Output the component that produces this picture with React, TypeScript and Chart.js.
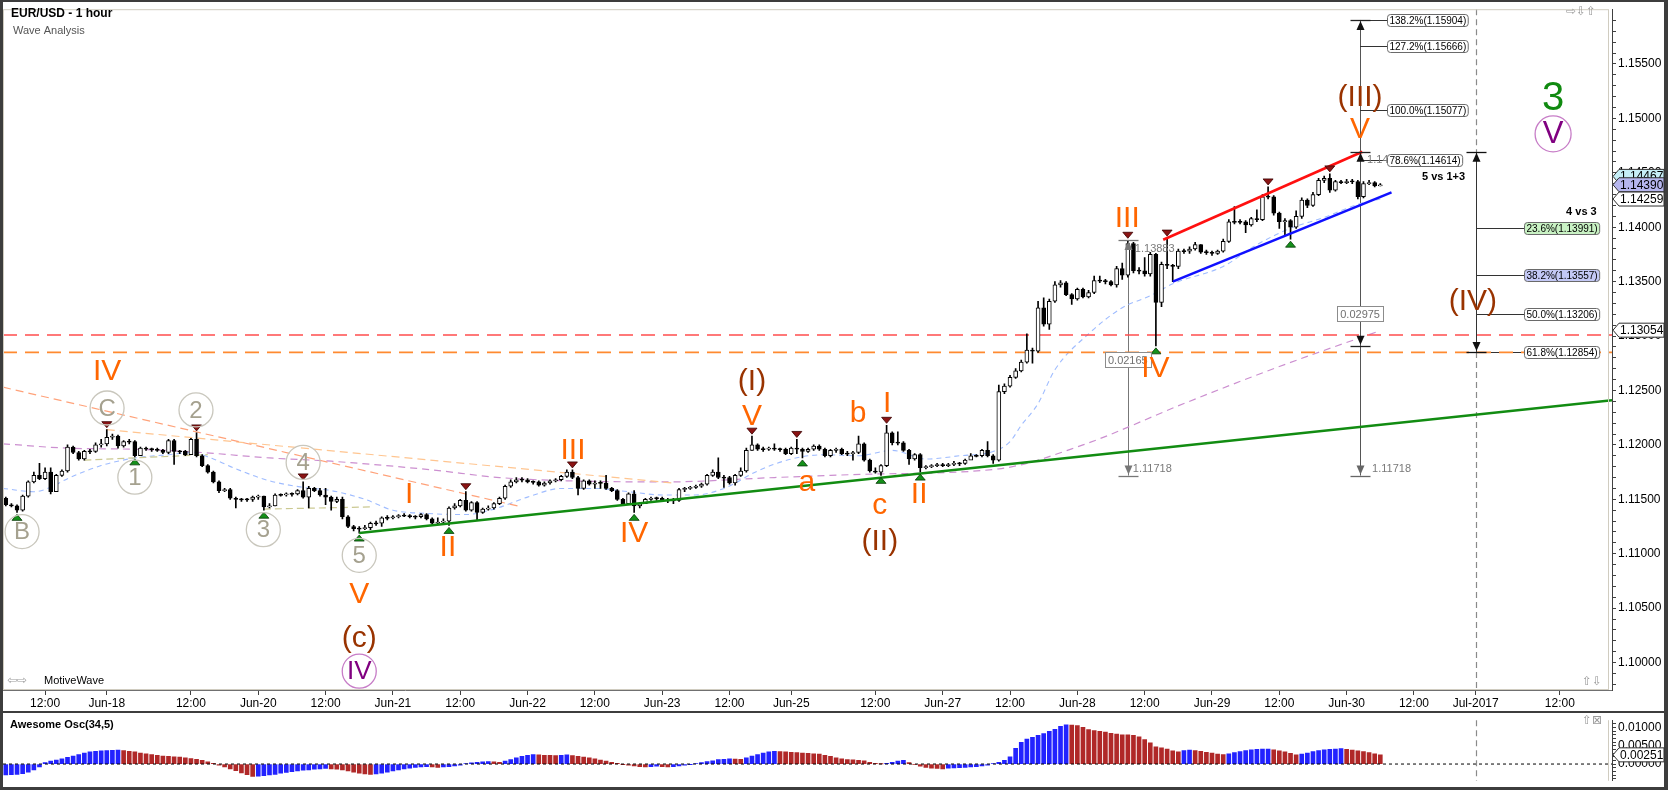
import React, { useEffect, useRef } from 'react';
import { Chart, registerables } from 'chart.js';

Chart.register(...registerables);

const FONT = '"Liberation Sans", Arial, Helvetica, sans-serif';
const SYM_FONT = '"DejaVu Sans", sans-serif';
const W = 1668;
const H_MAIN = 711;
const H_AO = 79;

// ---- axes ----
const X_MIN = -7.5;
const X_MAX = 279.3;
const Y_MIN = 1.09748;
const Y_MAX = 1.16003;
const AO_MIN = -0.00457;
const AO_MAX = 0.01196;

const TICK_POS = [0, 11, 26, 38, 50, 62, 74, 86, 98, 110, 122, 133, 148, 160, 172, 184, 196, 208, 220, 232, 244, 255, 270];
const TICK_LABELS = ['12:00', 'Jun-18', '12:00', 'Jun-20', '12:00', 'Jun-21', '12:00', 'Jun-22', '12:00', 'Jun-23', '12:00', 'Jun-25', '12:00', 'Jun-27', '12:00', 'Jun-28', '12:00', 'Jun-29', '12:00', 'Jun-30', '12:00', 'Jul-2017', '12:00'];

// ---- candles (hourly, index 0 = Jun-16 12:00, weekend removed) ----
const START_IDX = -7;
const FIRST_OPEN = 1.1151;
const CLOSE = [
  1.1145, 1.1144, 1.1140, 1.1153, 1.1166, 1.1172, 1.1169, 1.1175, 1.1157, 1.1172,
  1.1176, 1.1198, 1.1193, 1.1187, 1.1194, 1.1194, 1.1200, 1.1201, 1.1207, 1.1208,
  1.1199, 1.1203, 1.1203, 1.1190, 1.1197, 1.1196, 1.1196, 1.1195, 1.1193, 1.1204,
  1.1194, 1.1194, 1.1191, 1.1205, 1.1190, 1.1181, 1.1175, 1.1166, 1.1158, 1.1159,
  1.1151, 1.1150, 1.1150, 1.1150, 1.1152, 1.1153, 1.1143, 1.1144, 1.1154, 1.1154,
  1.1155, 1.1155, 1.1158, 1.1152, 1.1160, 1.1158, 1.1154, 1.1152, 1.1148, 1.1150,
  1.1134, 1.1125, 1.1123, 1.1123, 1.1124, 1.1128, 1.1128, 1.1133, 1.1133, 1.1134,
  1.1135, 1.1135, 1.1134, 1.1134, 1.1136, 1.1132, 1.1128, 1.1129, 1.1130, 1.1142,
  1.1144, 1.1149, 1.1140, 1.1147, 1.1138, 1.1141, 1.1142, 1.1146, 1.1151, 1.1162,
  1.1166, 1.1168, 1.1168, 1.1166, 1.1166, 1.1163, 1.1165, 1.1167, 1.1168, 1.1171,
  1.1175, 1.1170, 1.1160, 1.1167, 1.1164, 1.1165, 1.1165, 1.1160, 1.1158, 1.1150,
  1.1146, 1.1155, 1.1144, 1.1146, 1.1150, 1.1151, 1.1151, 1.1149, 1.1149, 1.1149,
  1.1159, 1.1160, 1.1161, 1.1162, 1.1164, 1.1172, 1.1175, 1.1170, 1.1170, 1.1165,
  1.1172, 1.1176, 1.1195, 1.1200, 1.1196, 1.1196, 1.1197, 1.1196, 1.1196, 1.1192,
  1.1197, 1.1196, 1.1194, 1.1196, 1.1199, 1.1196, 1.1190, 1.1195, 1.1196, 1.1192,
  1.1192, 1.1193, 1.1201, 1.1186, 1.1176, 1.1175, 1.1181, 1.1211, 1.1202, 1.1202,
  1.1195, 1.1187, 1.1191, 1.1179, 1.1180, 1.1181, 1.1182, 1.1181, 1.1182, 1.1183,
  1.1183, 1.1186, 1.1190, 1.1190, 1.1195, 1.1190, 1.1186, 1.1249, 1.1254, 1.1262,
  1.1268, 1.1276, 1.1287, 1.1286, 1.1326, 1.1311, 1.1332, 1.1347, 1.1349, 1.1338,
  1.1334, 1.1343, 1.1336, 1.1340, 1.1351, 1.1351, 1.1350, 1.1347, 1.1362, 1.1356,
  1.1385, 1.1360, 1.1360, 1.1357, 1.1375, 1.1331, 1.1366, 1.1365, 1.1364, 1.1378,
  1.1378, 1.1380, 1.1384, 1.1377, 1.1377, 1.1376, 1.1378, 1.1387, 1.1405, 1.1405,
  1.1405, 1.1402, 1.1408, 1.1407, 1.1428, 1.1428, 1.1413, 1.1405, 1.1406, 1.1400,
  1.1410, 1.1425, 1.1420, 1.1430, 1.1443, 1.1445, 1.1434, 1.1442, 1.1441, 1.1442,
  1.1442, 1.1428, 1.1440, 1.1441, 1.1438, 1.1439,
];
const HIGH = [
  1.1152, 1.1146, 1.1145, 1.1154, 1.1167, 1.1175, 1.1183, 1.1179, 1.1179, 1.1173,
  1.1177, 1.1200, 1.1199, 1.1194, 1.1195, 1.1196, 1.1202, 1.1205, 1.1214, 1.1210,
  1.1209, 1.1204, 1.1205, 1.1204, 1.1198, 1.1198, 1.1197, 1.1197, 1.1196, 1.1205,
  1.1205, 1.1195, 1.1195, 1.1206, 1.1211, 1.1191, 1.1182, 1.1176, 1.1167, 1.1160,
  1.1160, 1.1152, 1.1151, 1.1151, 1.1153, 1.1154, 1.1153, 1.1146, 1.1155, 1.1155,
  1.1156, 1.1156, 1.1159, 1.1166, 1.1162, 1.1161, 1.1160, 1.1160, 1.1153, 1.1152,
  1.1152, 1.1135, 1.1126, 1.1125, 1.1126, 1.1129, 1.1130, 1.1134, 1.1135, 1.1135,
  1.1136, 1.1137, 1.1136, 1.1135, 1.1137, 1.1137, 1.1133, 1.1133, 1.1132, 1.1143,
  1.1146, 1.1150, 1.1157, 1.1148, 1.1148, 1.1142, 1.1144, 1.1147, 1.1152, 1.1163,
  1.1168, 1.1170, 1.1170, 1.1169, 1.1167, 1.1167, 1.1166, 1.1168, 1.1169, 1.1172,
  1.1177, 1.1177, 1.1171, 1.1168, 1.1168, 1.1167, 1.1167, 1.1172, 1.1161, 1.1159,
  1.1151, 1.1156, 1.1158, 1.1147, 1.1151, 1.1152, 1.1152, 1.1152, 1.1151, 1.1151,
  1.1160, 1.1161, 1.1162, 1.1163, 1.1165, 1.1173, 1.1177, 1.1188, 1.1172, 1.1171,
  1.1173, 1.1179, 1.1197, 1.1208, 1.1201, 1.1198, 1.1198, 1.1201, 1.1197, 1.1197,
  1.1198, 1.1205, 1.1197, 1.1197, 1.1200, 1.1200, 1.1197, 1.1196, 1.1197, 1.1197,
  1.1194, 1.1194, 1.1208, 1.1202, 1.1187, 1.1179, 1.1182, 1.1218, 1.1212, 1.1212,
  1.1203, 1.1196, 1.1192, 1.1192, 1.1181, 1.1182, 1.1183, 1.1183, 1.1183, 1.1185,
  1.1184, 1.1187, 1.1192, 1.1191, 1.1196, 1.1203, 1.1191, 1.1255, 1.1256, 1.1264,
  1.1270, 1.1278, 1.1302, 1.1289, 1.1332, 1.1335, 1.1334, 1.1350, 1.1351, 1.1350,
  1.1339, 1.1344, 1.1344, 1.1342, 1.1355, 1.1355, 1.1352, 1.1351, 1.1364, 1.1367,
  1.1388, 1.1386, 1.1363, 1.1372, 1.1377, 1.1376, 1.1368, 1.1390, 1.1366, 1.1380,
  1.1380, 1.1382, 1.1386, 1.1384, 1.1379, 1.1378, 1.1379, 1.1389, 1.1407, 1.1419,
  1.1407, 1.1406, 1.1409, 1.1416, 1.1430, 1.1437, 1.1429, 1.1414, 1.1408, 1.1407,
  1.1415, 1.1427, 1.1426, 1.1432, 1.1445, 1.1447, 1.1449, 1.1443, 1.1443, 1.1444,
  1.1444, 1.1443, 1.1442, 1.1443, 1.1442, 1.1440,
];
const LOW = [
  1.1144, 1.1143, 1.1138, 1.1139, 1.1152, 1.1165, 1.1168, 1.1168, 1.1155, 1.1157,
  1.1171, 1.1175, 1.1192, 1.1186, 1.1186, 1.1192, 1.1193, 1.1198, 1.1199, 1.1205,
  1.1197, 1.1198, 1.1201, 1.1189, 1.1190, 1.1195, 1.1194, 1.1194, 1.1192, 1.1192,
  1.1182, 1.1192, 1.1190, 1.1191, 1.1189, 1.1180, 1.1174, 1.1165, 1.1156, 1.1157,
  1.1150, 1.1142, 1.1148, 1.1148, 1.1148, 1.1150, 1.1140, 1.1142, 1.1144, 1.1153,
  1.1153, 1.1153, 1.1154, 1.1151, 1.1142, 1.1157, 1.1153, 1.1145, 1.1140, 1.1147,
  1.1132, 1.1124, 1.1121, 1.1119, 1.1122, 1.1122, 1.1126, 1.1125, 1.1131, 1.1132,
  1.1133, 1.1134, 1.1133, 1.1132, 1.1133, 1.1131, 1.1127, 1.1127, 1.1128, 1.1126,
  1.1141, 1.1143, 1.1139, 1.1139, 1.1131, 1.1137, 1.1140, 1.1141, 1.1145, 1.1150,
  1.1161, 1.1165, 1.1166, 1.1165, 1.1164, 1.1162, 1.1162, 1.1164, 1.1166, 1.1167,
  1.1170, 1.1169, 1.1154, 1.1159, 1.1163, 1.1160, 1.1160, 1.1159, 1.1157, 1.1149,
  1.1145, 1.1145, 1.1138, 1.1142, 1.1146, 1.1149, 1.1149, 1.1148, 1.1147, 1.1146,
  1.1148, 1.1157, 1.1159, 1.1160, 1.1161, 1.1163, 1.1171, 1.1169, 1.1161, 1.1164,
  1.1163, 1.1171, 1.1175, 1.1195, 1.1195, 1.1194, 1.1195, 1.1195, 1.1194, 1.1191,
  1.1191, 1.1192, 1.1188, 1.1193, 1.1195, 1.1195, 1.1189, 1.1189, 1.1193, 1.1191,
  1.1190, 1.1186, 1.1192, 1.1185, 1.1175, 1.1174, 1.1172, 1.1180, 1.1200, 1.1200,
  1.1194, 1.1182, 1.1186, 1.1175, 1.1178, 1.1179, 1.1180, 1.1180, 1.1180, 1.1181,
  1.1181, 1.1182, 1.1187, 1.1189, 1.1189, 1.1189, 1.1183, 1.1185, 1.1247, 1.1253,
  1.1261, 1.1267, 1.1275, 1.1275, 1.1285, 1.1309, 1.1306, 1.1331, 1.1345, 1.1337,
  1.1329, 1.1333, 1.1335, 1.1335, 1.1339, 1.1349, 1.1348, 1.1346, 1.1345, 1.1352,
  1.1354, 1.1358, 1.1357, 1.1355, 1.1355, 1.1291, 1.1327, 1.1362, 1.1350, 1.1362,
  1.1376, 1.1376, 1.1379, 1.1376, 1.1375, 1.1374, 1.1375, 1.1377, 1.1386, 1.1403,
  1.1403, 1.1395, 1.1401, 1.1405, 1.1406, 1.1426, 1.1411, 1.1399, 1.1393, 1.1389,
  1.1399, 1.1408, 1.1418, 1.1419, 1.1429, 1.1441, 1.1432, 1.1433, 1.1440, 1.1440,
  1.1440, 1.1426, 1.1427, 1.1439, 1.1437, 1.1438,
];

// ---- Awesome Oscillator (one value per candle) ----
const AO = [
  -0.0030, -0.0029, -0.0028, -0.0026, -0.0022, -0.0016, -0.0008, 0.0004, 0.0008, 0.0011,
  0.0014, 0.0018, 0.0022, 0.0026, 0.0030, 0.0033, 0.0035, 0.0036, 0.0037, 0.00375,
  0.0038, 0.0037, 0.0035, 0.0033, 0.0030, 0.0028, 0.0026, 0.0024, 0.0022, 0.0021,
  0.0020, 0.0019, 0.0017, 0.0015, 0.0013, 0.0010, 0.0006, 0.0002, -0.0003, -0.0008,
  -0.0013, -0.0018, -0.0024, -0.0029, -0.0034, -0.0033, -0.0032, -0.0030, -0.0028, -0.0025,
  -0.0023, -0.0021, -0.0019, -0.0017, -0.0016, -0.0014, -0.0013, -0.0012, -0.0013, -0.0014,
  -0.0016, -0.0019, -0.0022, -0.0025, -0.0027, -0.0028, -0.0027, -0.0025, -0.0022, -0.0019,
  -0.0016, -0.0013, -0.0011, -0.0009, -0.0008, -0.0007, -0.0008, -0.0009, -0.0008, -0.0007,
  -0.0005, -0.0003, 0.0001, 0.0003, 0.0005, 0.0006, 0.0007, 0.0006, 0.0005, 0.0008,
  0.0012, 0.0017, 0.0021, 0.0024, 0.0026, 0.0025, 0.0024, 0.00235, 0.0023, 0.0024,
  0.0025, 0.0023, 0.0021, 0.0019, 0.0017, 0.0014, 0.0011, 0.0008, 0.0005, 0.0002,
  -0.0001, -0.0003, -0.0005, -0.0007, -0.0008, -0.0007, -0.0006, -0.0007, -0.0008, -0.0007,
  -0.0005, -0.0003, -0.0001, 0.0001, 0.0004, 0.0007, 0.0009, 0.0012, 0.0013, 0.0014,
  0.00135, 0.0013, 0.0017, 0.0022, 0.0026, 0.0030, 0.0033, 0.0035, 0.0034, 0.0033,
  0.0032, 0.0031, 0.0030, 0.0029, 0.0028, 0.0027, 0.0024, 0.0021, 0.0017, 0.0014,
  0.0012, 0.00115, 0.0010, 0.0009, 0.0005, 0.0002, 0.00005, 0.0002, 0.0005, 0.0008,
  0.0010, 0.0004, -0.0002, -0.0006, -0.0009, -0.0011, -0.0012, -0.0013, -0.0011, -0.00105,
  -0.0010, -0.0009, -0.0008, -0.0007, -0.0005, -0.0003, 0.0001, 0.0005, 0.0010, 0.0020,
  0.0043, 0.0059, 0.0068, 0.0073, 0.0078, 0.0083, 0.0089, 0.0095, 0.0103, 0.0107,
  0.0106, 0.0105, 0.0100, 0.0094, 0.0091, 0.0089, 0.0087, 0.0084, 0.0082, 0.0080,
  0.00795, 0.0078, 0.0074, 0.0067, 0.0058, 0.0047, 0.0044, 0.0041, 0.0036, 0.0033,
  0.0037, 0.0038, 0.0037, 0.0035, 0.0032, 0.0030, 0.0027, 0.0026, 0.0028, 0.0031,
  0.0034, 0.0037, 0.0039, 0.0040, 0.00405, 0.0041, 0.0039, 0.0036, 0.0033, 0.0029,
  0.0025, 0.0027, 0.0030, 0.0034, 0.0037, 0.0039, 0.0040, 0.0041, 0.0042, 0.0040,
  0.0038, 0.0036, 0.0034, 0.0031, 0.0028, 0.0025,
];
const AO_LAST = 0.00251;

// ---- moving averages & drawn lines ([index, price]) ----
const MA_FAST: [number, number][] = [[-7.5, 1.1160], [-2, 1.1157], [1, 1.1161], [4, 1.1169], [10, 1.1181], [16, 1.1188], [22, 1.1191], [26, 1.1193], [30, 1.1187], [34, 1.1178], [40, 1.1167], [46, 1.1161], [51, 1.1158], [57, 1.1150], [62, 1.1140], [68, 1.1137], [75, 1.1136], [80, 1.1141], [86, 1.1152], [92, 1.1160], [98, 1.1160], [104, 1.1157], [110, 1.1154], [116, 1.1154], [121, 1.1160], [127, 1.1176], [133, 1.1187], [139, 1.1191], [145, 1.1190], [151, 1.1195], [157, 1.1187], [163, 1.1190], [169, 1.1194], [172, 1.1203], [174, 1.1218], [177, 1.1238], [180, 1.1269], [186, 1.1302], [192, 1.1326], [197, 1.1337], [201, 1.1348], [210, 1.1364], [216, 1.1384], [222, 1.1399], [228, 1.1409], [234, 1.1421], [238, 1.1426]];
const MA_SLOW: [number, number][] = [[-7.5, 1.1201], [4, 1.1197], [16, 1.1196], [28, 1.1193], [40, 1.1188], [51, 1.1185], [69, 1.1177], [81, 1.1170], [93, 1.1167], [111, 1.1166], [130, 1.1170], [146, 1.1173], [170, 1.1178], [185, 1.1200], [203, 1.1238], [220, 1.1272], [238, 1.1305]];
const SALMON_LINE: [number, number][] = [[-7.5, 1.1253], [85, 1.1143]];
const PEACH_LINE: [number, number][] = [[11, 1.1214], [112, 1.1165]];
const KHAKI_A: [number, number][] = [[7, 1.1186], [29, 1.1191]];
const KHAKI_B: [number, number][] = [[39, 1.1141], [58, 1.1143]];
const GREEN_LINE: [number, number][] = [[56, 1.1119], [279.3, 1.1241]];
const RED_CHANNEL: [number, number][] = [[199.3, 1.13885], [234.8, 1.14693]];
const BLUE_CHANNEL: [number, number][] = [[201, 1.1350], [240, 1.1432]];
const H_RED = 1.1301;
const H_ORANGE = 1.1285;

// ---- swing markers ----
const HIGH_MARKS = [11, 27, 46, 75, 94, 126, 134, 150, 193, 200, 218, 229];
const LOW_MARKS = [-5, 16, 39, 56, 72, 105, 135, 149, 156, 198, 222];

// ---- wave labels [text, index, price, style] ----
const WAVE_LABELS: [string, number, number, string][] = [
  ['IV', 11.05, 1.12685, 'o'], ['C', 11.05, 1.12339, 'g'], ['2', 26.9, 1.12321, 'g'],
  ['1', 16.0, 1.11703, 'g'], ['B', -4.1, 1.11203, 'g'], ['3', 38.9, 1.11221, 'g'],
  ['4', 46.0, 1.11839, 'g'], ['5', 56.0, 1.10985, 'g'], ['V', 56.0, 1.10630, 'o'],
  ['(c)', 56.0, 1.10230, 'b'], ['IV', 56.0, 1.09921, 'p'], ['I', 64.9, 1.11548, 'o'],
  ['II', 71.8, 1.11066, 'o'], ['III', 94.1, 1.11957, 'o'], ['IV', 105.0, 1.11194, 'o'],
  ['(I)', 126.0, 1.12585, 'b'], ['V', 126.0, 1.12267, 'o'], ['a', 135.8, 1.11657, 'o'],
  ['b', 144.9, 1.12294, 'o'], ['I', 150.1, 1.12384, 'o'], ['c', 148.8, 1.11448, 'o'],
  ['II', 155.8, 1.11548, 'o'], ['(II)', 148.8, 1.11121, 'b'], ['III', 192.9, 1.14084, 'o'],
  ['IV', 197.9, 1.12712, 'o'], ['(III)', 234.4, 1.15202, 'b'], ['V', 234.4, 1.14902, 'o'],
  ['3', 268.8, 1.15184, 'G'], ['V', 268.8, 1.14857, 'P'], ['(IV)', 254.5, 1.13321, 'b'],
];

// ---- measurement / fibonacci tools ----
const TOOL_L_X = 193;
const TOOL_L_TOP = 1.13883;
const TOOL_L_BOT = 1.11718;
const TOOL_L_DIFF = '0.02165';
const TOOL_R_X = 234.4;
const TOOL_R_TOP = 1.15904;
const TOOL_R_MEAS = 1.14693;
const TOOL_R_BASE = 1.12912;
const TOOL_R_BOT = 1.11718;
const TOOL_R_DIFF = '0.02975';
const TOOL_IV_X = 255;
const TOOL_IV_TOP = 1.14693;
const TOOL_IV_BOT = 1.12854;
const FIB_EXT_LEVELS = ['138.2%', '127.2%', '100.0%', '78.6%'];
const FIB_EXT_PRICES = [1.15904, 1.15666, 1.15077, 1.14614];
const FIB_RET_LEVELS = ['23.6%', '38.2%', '50.0%', '61.8%'];
const FIB_RET_PRICES = [1.13991, 1.13557, 1.13206, 1.12854];
const FIB_RET_FILLS = ['#c9f2c4', '#c3c8f5', '#ffffff', '#ffffff'];
const TAG_VALUES = [1.14467, 1.14390, 1.14259, 1.13054];
const TAG_FILLS = ['#c6eef6', '#b6b6ee', '#ffffff', '#ffffff'];

const WAVE_STYLE: Record<string, { color: string; size: number; circle?: string; r?: number }> = {
  o: { color: '#ff6600', size: 30 },
  b: { color: '#993300', size: 30 },
  g: { color: '#a5a18f', size: 24, circle: '#c9c7bd', r: 17 },
  p: { color: '#800080', size: 26, circle: '#c77dc7', r: 17 },
  P: { color: '#800080', size: 31, circle: '#c77dc7', r: 18 },
  G: { color: '#108a10', size: 40 },
};

function roundRect(ctx: CanvasRenderingContext2D, x: number, y: number, w: number, h: number, r: number) {
  ctx.beginPath();
  ctx.moveTo(x + r, y);
  ctx.arcTo(x + w, y, x + w, y + h, r);
  ctx.arcTo(x + w, y + h, x, y + h, r);
  ctx.arcTo(x, y + h, x, y, r);
  ctx.arcTo(x, y, x + w, y, r);
  ctx.closePath();
}

function axisTag(ctx: CanvasRenderingContext2D, y: number, text: string, fill: string) {
  const x0 = 1613, x1 = 1619, x2 = 1664, h = 7;
  ctx.beginPath();
  ctx.moveTo(x0, y);
  ctx.lineTo(x1, y - h);
  ctx.lineTo(x2, y - h);
  ctx.lineTo(x2, y + h);
  ctx.lineTo(x1, y + h);
  ctx.closePath();
  ctx.fillStyle = fill;
  ctx.fill();
  ctx.strokeStyle = '#303030';
  ctx.lineWidth = 1;
  ctx.stroke();
  ctx.fillStyle = '#000';
  ctx.font = `12px ${FONT}`;
  ctx.textAlign = 'left';
  ctx.textBaseline = 'middle';
  ctx.fillText(text, x1 + 1, y + 0.5);
}

const isMultiple = (v: number, step: number) => Math.abs(Math.round(v / step) * step - v) < 1e-7;

const mainPlugin = {
  id: 'mainDecor',
  beforeDatasetsDraw(chart: any) {
    const { ctx, chartArea: a } = chart;
    const X = (v: number) => chart.scales.x.getPixelForValue(v);
    const Y = (v: number) => chart.scales.y.getPixelForValue(v);
    ctx.save();
    const xd = Math.round(X(TOOL_IV_X)) + 0.5;
    ctx.strokeStyle = '#8a8a8a';
    ctx.lineWidth = 1.2;
    ctx.setLineDash([6, 4]);
    ctx.beginPath();
    ctx.moveTo(xd, a.top);
    ctx.lineTo(xd, Y(TOOL_IV_TOP));
    ctx.moveTo(xd, Y(TOOL_IV_BOT));
    ctx.lineTo(xd, a.bottom);
    ctx.stroke();
    ctx.setLineDash([]);
    ctx.lineWidth = 1;
    const vline = (xv: number, p1: number, p2: number, col: string) => {
      const x = Math.round(X(xv)) + 0.5;
      ctx.strokeStyle = col;
      ctx.beginPath();
      ctx.moveTo(x, Y(p1));
      ctx.lineTo(x, Y(p2));
      ctx.stroke();
    };
    vline(TOOL_L_X, TOOL_L_TOP, TOOL_L_BOT, '#777');
    vline(TOOL_R_X, TOOL_R_TOP, TOOL_R_BOT, '#555');
    vline(TOOL_IV_X, TOOL_IV_TOP, TOOL_IV_BOT, '#333');
    ctx.strokeStyle = '#333';
    const xr = Math.round(X(TOOL_R_X));
    FIB_EXT_PRICES.forEach((p) => {
      const y = Math.round(Y(p)) + 0.5;
      ctx.beginPath();
      ctx.moveTo(xr, y);
      ctx.lineTo(xr + 27, y);
      ctx.stroke();
    });
    const xi = Math.round(X(TOOL_IV_X));
    FIB_RET_PRICES.forEach((p) => {
      const y = Math.round(Y(p)) + 0.5;
      ctx.beginPath();
      ctx.moveTo(xi, y);
      ctx.lineTo(xi + 48, y);
      ctx.stroke();
    });
    ctx.restore();
  },
  afterDraw(chart: any) {
    const { ctx, chartArea: a } = chart;
    const X = (v: number) => chart.scales.x.getPixelForValue(v);
    const Y = (v: number) => chart.scales.y.getPixelForValue(v);
    ctx.save();
    ctx.strokeStyle = '#d0ccc0';
    ctx.lineWidth = 1;
    ctx.strokeRect(a.left + 0.5, a.top + 0.5, a.right - a.left - 4, a.bottom - a.top - 1);
    ctx.fillStyle = '#3d3d3d';
    ctx.fillRect(0, 0, 3, H_MAIN);
    ctx.fillRect(0, 0, W, 2);
    ctx.fillRect(W - 4, 0, 4, H_MAIN);

    const tri = (x: number, y: number, down: boolean) => {
      ctx.beginPath();
      if (down) {
        ctx.moveTo(x - 5, y - 6);
        ctx.lineTo(x + 5, y - 6);
        ctx.lineTo(x, y);
      } else {
        ctx.moveTo(x - 5, y + 6);
        ctx.lineTo(x + 5, y + 6);
        ctx.lineTo(x, y);
      }
      ctx.closePath();
      ctx.fill();
      ctx.stroke();
    };
    ctx.lineWidth = 0.8;
    ctx.fillStyle = '#8b1414';
    ctx.strokeStyle = '#3a0000';
    HIGH_MARKS.forEach((i) => tri(X(i), Y(HIGH[i - START_IDX]) - 2, true));
    ctx.fillStyle = '#14901a';
    ctx.strokeStyle = '#063a06';
    LOW_MARKS.forEach((i) => tri(X(i), Y(LOW[i - START_IDX]) + 2, false));

    const cap = (xv: number, p: number, col: string) => {
      const x = Math.round(X(xv)) + 0.5;
      const y = Math.round(Y(p)) + 0.5;
      ctx.strokeStyle = col;
      ctx.lineWidth = 1.3;
      ctx.beginPath();
      ctx.moveTo(x - 10, y);
      ctx.lineTo(x + 10, y);
      ctx.stroke();
    };
    const arrow = (xv: number, p: number, dir: number, col: string) => {
      const x = Math.round(X(xv)) + 0.5;
      const y = Y(p) + (dir < 0 ? 1 : -1);
      ctx.fillStyle = col;
      ctx.beginPath();
      ctx.moveTo(x, y);
      ctx.lineTo(x - 4, y - dir * 9);
      ctx.lineTo(x + 4, y - dir * 9);
      ctx.closePath();
      ctx.fill();
    };
    cap(TOOL_L_X, TOOL_L_TOP, '#777');
    cap(TOOL_L_X, TOOL_L_BOT, '#777');
    arrow(TOOL_L_X, TOOL_L_TOP, -1, '#777');
    arrow(TOOL_L_X, TOOL_L_BOT, 1, '#777');
    cap(TOOL_R_X, TOOL_R_TOP, '#222');
    cap(TOOL_R_X, TOOL_R_MEAS, '#222');
    cap(TOOL_R_X, TOOL_R_BASE, '#222');
    cap(TOOL_R_X, TOOL_R_BOT, '#666');
    arrow(TOOL_R_X, TOOL_R_TOP, -1, '#111');
    arrow(TOOL_R_X, TOOL_R_MEAS, -1, '#111');
    arrow(TOOL_R_X, TOOL_R_BASE, 1, '#111');
    arrow(TOOL_R_X, TOOL_R_BOT, 1, '#666');
    cap(TOOL_IV_X, TOOL_IV_TOP, '#111');
    cap(TOOL_IV_X, TOOL_IV_BOT, '#111');
    arrow(TOOL_IV_X, TOOL_IV_TOP, -1, '#111');
    arrow(TOOL_IV_X, TOOL_IV_BOT, 1, '#111');

    ctx.font = `11px ${FONT}`;
    ctx.textAlign = 'left';
    ctx.textBaseline = 'middle';
    ctx.fillStyle = '#7a7a7a';
    ctx.fillText(TOOL_L_TOP.toFixed(5), X(TOOL_L_X) + 7, Y(TOOL_L_TOP) + 9);
    ctx.fillText(TOOL_L_BOT.toFixed(5), X(TOOL_L_X) + 5, Y(TOOL_L_BOT) - 7);
    ctx.fillText(TOOL_R_BOT.toFixed(5), X(TOOL_R_X) + 12, Y(TOOL_R_BOT) - 7);
    ctx.fillText(TOOL_R_MEAS.toFixed(5), X(TOOL_R_X) + 7, Y(FIB_EXT_PRICES[3]));

    const measBox = (xv: number, p: number, text: string) => {
      ctx.font = `11px ${FONT}`;
      const w = ctx.measureText(text).width + 6;
      const x = X(xv) - w / 2;
      const y = Y(p);
      ctx.fillStyle = '#fff';
      ctx.fillRect(x, y - 7.5, w, 15);
      ctx.strokeStyle = '#8c8c8c';
      ctx.lineWidth = 1;
      ctx.strokeRect(Math.round(x) + 0.5, Math.round(y - 7.5) + 0.5, Math.round(w), 15);
      ctx.fillStyle = '#707070';
      ctx.textAlign = 'center';
      ctx.fillText(text, X(xv), y + 1);
    };
    measBox(TOOL_L_X, 1.12782, TOOL_L_DIFF);
    measBox(TOOL_R_X, (TOOL_R_MEAS + TOOL_R_BOT) / 2, TOOL_R_DIFF);

    const fibBox = (x: number, y: number, text: string, fill: string) => {
      ctx.font = `10px ${FONT}`;
      const w = ctx.measureText(text).width + 4;
      roundRect(ctx, x, y - 6, w, 12, 3);
      ctx.fillStyle = fill;
      ctx.fill();
      ctx.strokeStyle = '#6a6a6a';
      ctx.lineWidth = 1;
      ctx.stroke();
      ctx.fillStyle = '#000';
      ctx.textAlign = 'left';
      ctx.textBaseline = 'middle';
      ctx.fillText(text, x + 2, y + 0.5);
    };
    FIB_EXT_PRICES.forEach((p, k) => fibBox(Math.round(X(TOOL_R_X)) + 27.5, Math.round(Y(p)) + 0.5, `${FIB_EXT_LEVELS[k]}(${p.toFixed(5)})`, '#ffffff'));
    FIB_RET_PRICES.forEach((p, k) => fibBox(Math.round(X(TOOL_IV_X)) + 48.5, Math.round(Y(p)) + 0.5, `${FIB_RET_LEVELS[k]}(${p.toFixed(5)})`, FIB_RET_FILLS[k]));
    ctx.font = `bold 11px ${FONT}`;
    ctx.fillStyle = '#000';
    ctx.textAlign = 'right';
    ctx.fillText('5 vs 1+3', X(TOOL_R_X) + 105, Y(FIB_EXT_PRICES[3]) + 17);
    ctx.fillText('4 vs 3', X(TOOL_IV_X) + 121, Y(FIB_RET_PRICES[0]) - 16);

    WAVE_LABELS.forEach(([t, xv, p, s]) => {
      const st = WAVE_STYLE[s];
      const x = X(xv);
      const y = Y(p);
      if (st.circle) {
        ctx.beginPath();
        ctx.arc(x, y, st.r as number, 0, Math.PI * 2);
        ctx.strokeStyle = st.circle;
        ctx.lineWidth = 1.3;
        ctx.stroke();
      }
      ctx.font = `${st.size}px ${FONT}`;
      ctx.fillStyle = st.color;
      ctx.textAlign = 'center';
      ctx.textBaseline = 'middle';
      ctx.fillText(t, x, y + 1);
    });

    ctx.textAlign = 'left';
    ctx.textBaseline = 'middle';
    ctx.fillStyle = '#000';
    ctx.font = `bold 12px ${FONT}`;
    ctx.fillText('EUR/USD - 1 hour', 11, 14);
    ctx.font = `11px ${FONT}`;
    ctx.fillStyle = '#555';
    ctx.fillText('Wave Analysis', 13, 31);
    ctx.fillStyle = '#000';
    ctx.fillText('MotiveWave', 44, 681);
    ctx.font = `12px ${SYM_FONT}`;
    ctx.fillStyle = '#9a9a9a';
    ctx.fillText('\u21E6\u21E8', 7, 681);
    ctx.fillText('\u21E8\u21E9\u21E7', 1566, 12);
    ctx.fillText('\u21E7\u21E9', 1582, 682);

    TAG_VALUES.forEach((v, k) => axisTag(ctx, Y(v), v.toFixed(5), TAG_FILLS[k]));
    ctx.restore();
  },
};

const aoPlugin = {
  id: 'aoDecor',
  afterDraw(chart: any) {
    const { ctx, chartArea: a } = chart;
    const X = (v: number) => chart.scales.x.getPixelForValue(v);
    const Y = (v: number) => chart.scales.y.getPixelForValue(v);
    ctx.save();
    const xd = Math.round(X(TOOL_IV_X)) + 0.5;
    ctx.strokeStyle = '#8a8a8a';
    ctx.lineWidth = 1.2;
    ctx.setLineDash([6, 4]);
    ctx.beginPath();
    ctx.moveTo(xd, a.top);
    ctx.lineTo(xd, a.bottom);
    ctx.stroke();
    ctx.setLineDash([]);
    ctx.strokeStyle = '#d0ccc0';
    ctx.lineWidth = 1;
    ctx.beginPath();
    ctx.moveTo(a.right - 3.5, a.top);
    ctx.lineTo(a.right - 3.5, a.bottom);
    ctx.stroke();
    ctx.fillStyle = '#3d3d3d';
    ctx.fillRect(0, 0, W, 2);
    ctx.fillRect(0, 0, 3, H_AO);
    ctx.fillRect(0, H_AO - 3, W, 3);
    ctx.fillRect(W - 4, 0, 4, H_AO);
    ctx.font = `bold 11px ${FONT}`;
    ctx.fillStyle = '#000';
    ctx.textAlign = 'left';
    ctx.textBaseline = 'middle';
    ctx.fillText('Awesome Osc(34,5)', 10, 14);
    ctx.font = `12px ${SYM_FONT}`;
    ctx.fillStyle = '#9a9a9a';
    ctx.fillText('\u21E7\u22A0', 1582, 10);
    axisTag(ctx, Y(AO_LAST), AO_LAST.toFixed(5), '#ffffff');
    ctx.restore();
  },
};

function lineDs(pts: [number, number][], color: string, width: number, dash: number[], order: number, tension = 0) {
  return {
    type: 'line',
    data: pts.map(([x, y]) => ({ x, y })),
    borderColor: color,
    borderWidth: width,
    borderDash: dash,
    pointRadius: 0,
    fill: false,
    tension,
    cubicInterpolationMode: tension ? 'monotone' : 'default',
    order,
  };
}

export default function App() {
  const mainRef = useRef<HTMLCanvasElement>(null);
  const aoRef = useRef<HTMLCanvasElement>(null);

  useEffect(() => {
    document.body.style.margin = '0';
    Chart.defaults.font.family = FONT;
    const idx = CLOSE.map((_, i) => i + START_IDX);
    const open = CLOSE.map((_, i) => (i === 0 ? FIRST_OPEN : CLOSE[i - 1]));
    const wickData = idx.map((x, i) => ({ x, y: [LOW[i], HIGH[i]] }));
    const bodyData = idx.map((x, i) => {
      const o = open[i];
      const c = CLOSE[i];
      if (Math.abs(o - c) < 0.00006) {
        const m = (o + c) / 2;
        return { x, y: [m - 0.00005, m + 0.00005] };
      }
      return { x, y: [o, c] };
    });
    const bodyFill = idx.map((_, i) => (CLOSE[i] > open[i] + 0.00005 ? '#ffffff' : '#000000'));

    const xScale = {
      type: 'linear',
      min: X_MIN,
      max: X_MAX,
      offset: false,
      afterBuildTicks: (s: any) => {
        s.ticks = TICK_POS.map((v) => ({ value: v }));
      },
      afterFit: (s: any) => {
        s.height = 21;
      },
      ticks: {
        autoSkip: false,
        maxRotation: 0,
        minRotation: 0,
        padding: 1,
        color: '#000',
        font: { size: 12, family: FONT },
        callback: (v: number) => {
          const k = TICK_POS.indexOf(v);
          return k >= 0 ? TICK_LABELS[k] : '';
        },
      },
      grid: { drawOnChartArea: false, drawTicks: true, tickLength: 5, color: '#404040', offset: false },
      border: { display: true, color: '#707070' },
    };

    const main = new Chart(mainRef.current as HTMLCanvasElement, {
      type: 'bar',
      data: {
        datasets: [
          lineDs(MA_SLOW, '#cc8fd0', 1.2, [7, 5], 12, 0.3),
          lineDs(MA_FAST, '#9fbcff', 1.1, [5, 4], 11, 0.3),
          lineDs(SALMON_LINE, '#ffa27a', 1.2, [8, 5], 10),
          lineDs(PEACH_LINE, '#ffc590', 1.2, [8, 5], 10),
          lineDs(KHAKI_A, '#cbc992', 1.2, [7, 4], 10),
          lineDs(KHAKI_B, '#cbc992', 1.2, [7, 4], 10),
          lineDs([[X_MIN, H_RED], [X_MAX, H_RED]], '#ff4d4d', 1.6, [14, 8], 9),
          lineDs([[X_MIN, H_ORANGE], [X_MAX, H_ORANGE]], '#ff8a30', 1.6, [14, 8], 9),
          {
            type: 'bar',
            data: wickData,
            backgroundColor: '#000000',
            borderWidth: 0,
            barThickness: 1,
            grouped: false,
            order: 5,
          },
          {
            type: 'bar',
            data: bodyData,
            backgroundColor: bodyFill,
            borderColor: '#000000',
            borderWidth: 1,
            borderSkipped: false,
            barThickness: 4,
            grouped: false,
            order: 4,
          },
          lineDs(GREEN_LINE, '#128c12', 2.6, [], 1),
          lineDs(RED_CHANNEL, '#ff1010', 2.6, [], 1),
          lineDs(BLUE_CHANNEL, '#1010ff', 2.6, [], 1),
        ],
      } as any,
      options: {
        responsive: false,
        animation: false,
        devicePixelRatio: 1,
        events: [],
        layout: { padding: { left: 3, top: 2, right: 0, bottom: 0 } },
        plugins: { legend: { display: false }, tooltip: { enabled: false } },
        scales: {
          x: xScale,
          y: {
            type: 'linear',
            position: 'right',
            min: Y_MIN,
            max: Y_MAX,
            beginAtZero: false,
            afterBuildTicks: (s: any) => {
              const t = [];
              for (let k = 1098; k <= 1159; k++) t.push({ value: k / 1000 });
              s.ticks = t;
            },
            afterFit: (s: any) => {
              s.width = 56;
            },
            ticks: {
              autoSkip: false,
              padding: 2,
              color: '#000',
              font: { size: 12, family: FONT },
              callback: (v: number) => (isMultiple(v, 0.005) ? v.toFixed(5) : ''),
            },
            grid: { drawOnChartArea: false, tickLength: 4, color: '#404040' },
            border: { display: true, color: '#404040' },
          },
        },
      } as any,
      plugins: [mainPlugin],
    } as any);

    const ao = new Chart(aoRef.current as HTMLCanvasElement, {
      type: 'bar',
      data: {
        datasets: [
          {
            type: 'bar',
            data: AO.map((v, i) => ({ x: i + START_IDX, y: v })),
            backgroundColor: AO.map((v, i) => (i === 0 || v > AO[i - 1] ? '#2222ff' : '#b02828')),
            borderWidth: 0,
            barThickness: 4,
            grouped: false,
            order: 2,
          },
          lineDs([[X_MIN, 0], [X_MAX, 0]], '#000000', 1, [3, 3], 1),
        ],
      } as any,
      options: {
        responsive: false,
        animation: false,
        devicePixelRatio: 1,
        events: [],
        layout: { padding: { left: 3, top: 0, right: 0, bottom: 3 } },
        plugins: { legend: { display: false }, tooltip: { enabled: false } },
        scales: {
          x: { type: 'linear', min: X_MIN, max: X_MAX, display: false, offset: false },
          y: {
            type: 'linear',
            position: 'right',
            min: AO_MIN,
            max: AO_MAX,
            beginAtZero: false,
            afterBuildTicks: (s: any) => {
              const t = [];
              for (let k = -4; k <= 11; k++) t.push({ value: k / 1000 });
              s.ticks = t;
            },
            afterFit: (s: any) => {
              s.width = 56;
            },
            ticks: {
              autoSkip: false,
              padding: 2,
              color: '#000',
              font: { size: 12, family: FONT },
              callback: (v: number) => (isMultiple(v, 0.005) ? Math.abs(v).toFixed(5) : ''),
            },
            grid: { drawOnChartArea: false, tickLength: 4, color: '#404040' },
            border: { display: true, color: '#404040' },
          },
        },
      } as any,
      plugins: [aoPlugin],
    } as any);

    return () => {
      main.destroy();
      ao.destroy();
    };
  }, []);

  return (
    <div style={{ position: 'absolute', left: 0, top: 0, width: W, height: H_MAIN + H_AO, background: '#ffffff', overflow: 'hidden' }}>
      <canvas ref={mainRef} width={W} height={H_MAIN} style={{ position: 'absolute', left: 0, top: 0, width: W, height: H_MAIN }} />
      <canvas ref={aoRef} width={W} height={H_AO} style={{ position: 'absolute', left: 0, top: H_MAIN, width: W, height: H_AO }} />
    </div>
  );
}
